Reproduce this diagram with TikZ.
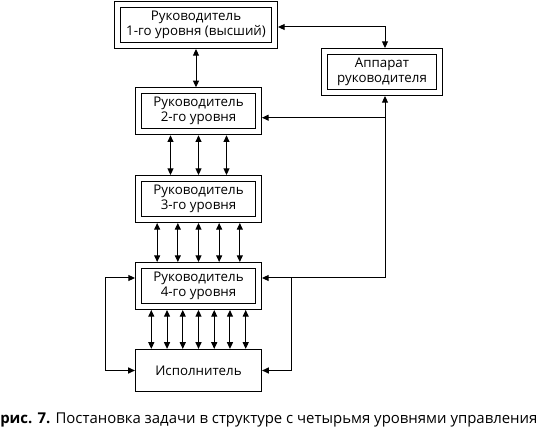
\documentclass[tikz,border=0pt]{standalone}
\usepackage{fontspec}
\setmainfont{Open Sans}
\usetikzlibrary{arrows.meta}

\begin{document}
\begin{tikzpicture}[x=0.75pt,y=0.75pt,yscale=-1,xscale=1,
    >={Triangle[length=5pt,width=4.5pt]},
    lvlbox/.style={draw, double, double distance=3.6pt, line width=0.9pt, outer sep=2.7pt, inner sep=0pt,
      minimum width=89.85pt, minimum height=30.6pt, align=center, font=\fontsize{10}{11.25}\selectfont},
    execbox/.style={draw, line width=0.9pt, inner sep=0pt, minimum width=94.5pt, minimum height=31.5pt,
      font=\fontsize{10}{11.25}\selectfont},
    link/.style={line width=0.75pt, <->},
    feed/.style={line width=0.75pt, ->}]
    \useasboundingbox (0,0) rectangle (544,431);

    % Boxes
    \node[lvlbox, minimum width=117.6pt] (lvl1) at (196,25) {Руководитель\\1-го уровня (высший)};
    \node[lvlbox, minimum width=86.1pt] (apparat) at (382,72) {Аппарат\\руководителя};
    \node[lvlbox] (lvl2) at (198.5,111.3) {Руководитель\\2-го уровня};
    \node[lvlbox] (lvl3) at (198.5,199) {Руководитель\\3-го уровня};
    \node[lvlbox] (lvl4) at (198.5,286) {Руководитель\\4-го уровня};
    \node[execbox] (exec) at (198.5,370.5) {Исполнитель};

    % Helper points
    \coordinate (rjoin) at (385,278);
    \coordinate (rtap) at (385,117.7);
    \coordinate (rloop) at (291,278);
    \coordinate (lloop) at (105.7,278);

    % Links between levels
    \draw[link] (lvl1.south) -- (lvl1.south |- lvl2.north);
    \foreach \i in {-1,0,1}
      \draw[link] ([xshift=\i*21pt]lvl2.south) -- ([xshift=\i*21pt]lvl3.north);
    \foreach \i in {-2,...,2}
      \draw[link] ([xshift=\i*15.5pt]lvl3.south) -- ([xshift=\i*15.5pt]lvl4.north);
    \foreach \i in {-3,...,3}
      \draw[link] ([xshift=\i*11.8pt]lvl4.south) -- ([xshift=\i*11.8pt]exec.north);

    % Staff lines
    \draw[link] (apparat.north -| rjoin) |- ([yshift=1.5pt]lvl1.east);
    \draw[feed] (rjoin) -- (apparat.south -| rjoin);
    \draw[feed] (rjoin) -- (lvl4.east |- rjoin);
    \draw[feed] (rtap) -- (lvl2.east |- rtap);

    % Loops round the executor
    \draw[feed] (rloop) |- (exec.east);
    \draw[link] (lvl4.west |- lloop) -- (lloop) |- (exec.west);

    % Caption
    \node[anchor=base west, inner sep=0pt, font=\fontsize{11.2}{13}\selectfont] (caption) at (0,424)
      {\textbf{рис. 7.} Постановка задачи в структуре с четырьмя уровнями управления};
\end{tikzpicture}
\end{document}
